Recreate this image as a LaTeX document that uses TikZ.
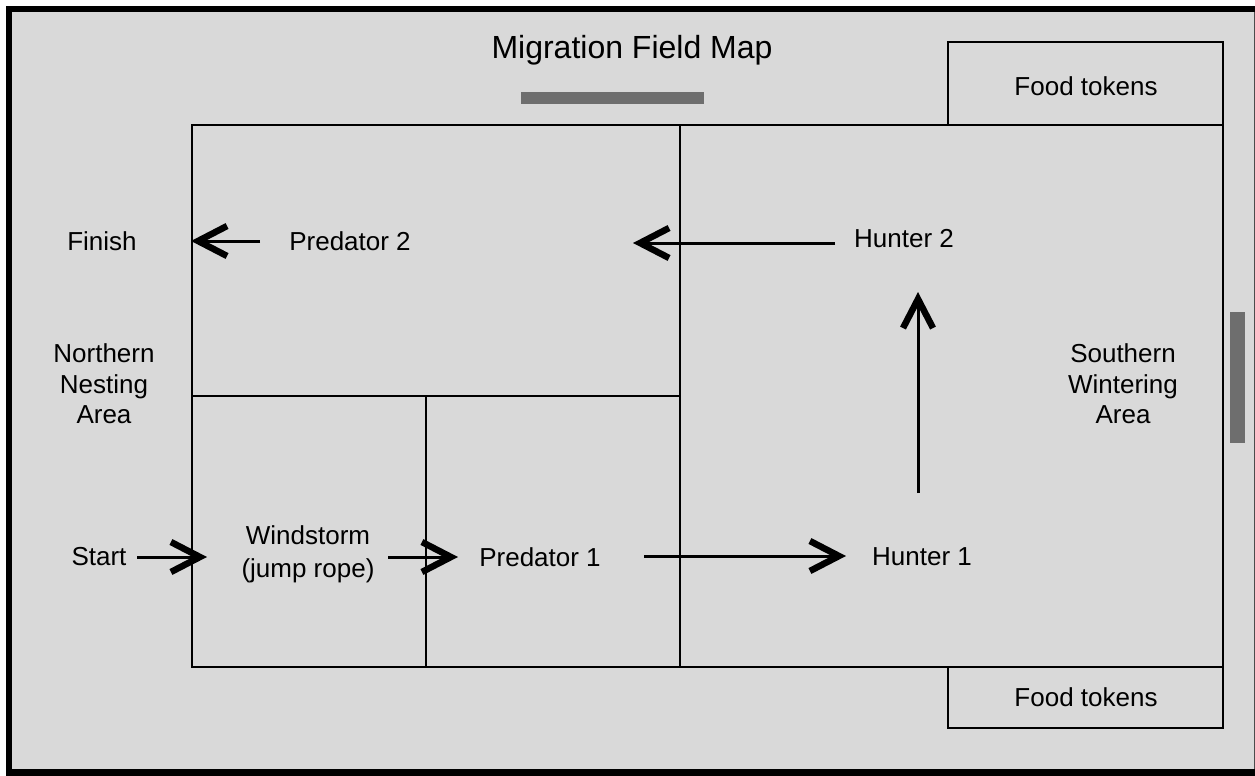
\documentclass[tikz,border=0pt]{standalone}
\usepackage{fontspec}
\setmainfont{Liberation Sans}
\usetikzlibrary{arrows.meta}
\definecolor{bgc}{HTML}{D9D9D9}
\definecolor{barc}{HTML}{6E6E6E}
\tikzset{
  lbl/.style={inner sep=0pt, align=center, font=\fontsize{26}{30.5}\selectfont},
  ttl/.style={inner sep=0pt, font=\fontsize{32}{36}\selectfont},
  fieldline/.style={line width=2pt, black},
  flow/.style={line width=3pt, -{Straight Barb[length=29pt,width=30pt,line width=6.5pt]}},
  bar/.style={fill=barc, draw=none}
}
\begin{document}
\begin{tikzpicture}[x=1pt,y=-1pt]
\useasboundingbox (0,0) rectangle (1255,776);
% frame and background
\fill[black] (6,6) rectangle (1262,776);
\fill[bgc] (12,12) rectangle (1255,769);
\draw[line width=1pt, black!70] (1254.5,12) -- (1254.5,769);
% title and bars
\node[ttl] (title) at (632,50) {Migration Field Map};
\fill[bar] (521,92) rectangle (704,104);
\fill[bar] (1230,312) rectangle (1245,443);
% food token boxes
\draw[fieldline] (948,42) rectangle (1223,125);
\node[lbl] (foodtop) at (1086,86) {Food tokens};
\draw[fieldline] (948,667) rectangle (1223,728);
\node[lbl] (foodbot) at (1086,697) {Food tokens};
% field
\draw[fieldline] (192,125) rectangle (1223,667);
\draw[fieldline] (680,125) -- (680,667);
\draw[fieldline] (192,396) -- (680,396);
\draw[fieldline] (426,396) -- (426,667);
% labels
\node[lbl] (finish) at (102,241) {Finish};
\node[lbl] (pred2) at (350,241) {Predator 2};
\node[lbl] (hunt2) at (904,239) {Hunter 2};
\node[lbl] (north) at (104,384) {Northern\\Nesting\\Area};
\node[lbl] (south) at (1123,384) {Southern\\Wintering\\Area};
\node[lbl] (start) at (99,557) {Start};
\node[lbl, font=\fontsize{26}{33}\selectfont] (wind) at (308,554) {Windstorm\\(jump rope)};
\node[lbl] (pred1) at (540,557) {Predator 1};
\node[lbl] (hunt1) at (922,557) {Hunter 1};
% arrow end points
\coordinate (s1) at (137,557);  \coordinate (e1) at (207,557);
\coordinate (s2) at (388,557);  \coordinate (e2) at (458,557);
\coordinate (s3) at (644,556);  \coordinate (e3) at (846,556);
\coordinate (s4) at (918,493);  \coordinate (e4) at (918,292);
\coordinate (s5) at (835,243);  \coordinate (e5) at (633,243);
\coordinate (s6) at (260,241);  \coordinate (e6) at (191,241);
\draw[flow] (s1) -- (e1);
\draw[flow] (s2) -- (e2);
\draw[flow] (s3) -- (e3);
\draw[flow] (s4) -- (e4);
\draw[flow] (s5) -- (e5);
\draw[flow] (s6) -- (e6);
\end{tikzpicture}
\end{document}
